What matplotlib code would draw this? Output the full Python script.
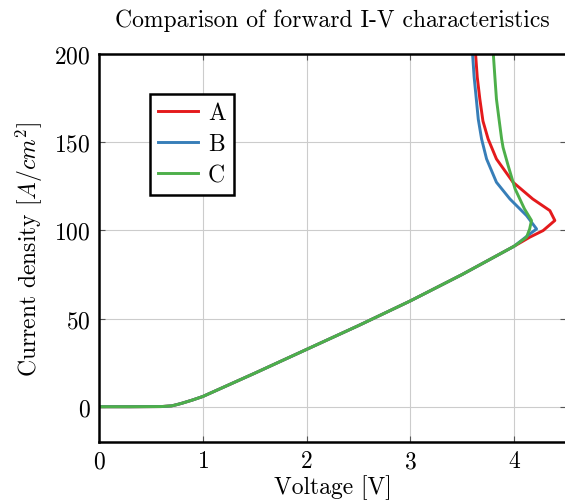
import matplotlib.pyplot as plt

# forward I-V sweeps (voltage in V, current density in A/cm^2)
v_a = [0.0, 0.3, 0.6, 0.7, 0.75, 0.8, 0.9, 1.0, 1.5, 2.0, 2.5, 3.0, 3.5, 4.0,
       4.15, 4.28, 4.393, 4.345, 4.18, 3.99, 3.83, 3.75, 3.70, 3.67, 3.645, 3.629, 3.625]
i_a = [0.0, 0.0, 0.1, 0.5, 1.2, 2.0, 3.8, 5.8, 19.0, 32.5, 46.0, 60.0, 75.0, 91.0,
       96.1, 99.9, 105.6, 111.2, 117.8, 127.3, 140.5, 151.8, 162.0, 174.5, 187.0, 200.0, 205.0]

v_b = [0.0, 0.3, 0.6, 0.7, 0.75, 0.8, 0.9, 1.0, 1.5, 2.0, 2.5, 3.0, 3.5, 4.0,
       4.152, 4.217, 4.12, 3.96, 3.83, 3.735, 3.687, 3.655, 3.636, 3.615, 3.60, 3.595]
i_b = [0.0, 0.0, 0.1, 0.5, 1.2, 2.0, 3.8, 5.8, 19.0, 32.5, 46.0, 60.0, 75.0, 91.0,
       98.0, 100.8, 108.4, 117.8, 127.3, 140.5, 151.8, 163.0, 174.5, 187.0, 200.0, 205.0]

v_c = [0.0, 0.3, 0.6, 0.7, 0.75, 0.8, 0.9, 1.0, 1.5, 2.0, 2.5, 3.0, 3.5, 4.0,
       4.12, 4.15, 4.168, 4.10, 4.01, 3.943, 3.894, 3.88, 3.855, 3.83, 3.815, 3.80, 3.795]
i_c = [0.0, 0.0, 0.1, 0.5, 1.2, 2.0, 3.8, 5.8, 19.0, 32.5, 46.0, 60.0, 75.0, 91.0,
       96.1, 100.8, 105.6, 112.2, 123.5, 136.7, 147.0, 151.8, 163.0, 174.5, 187.0, 200.0, 205.0]

x_ticks = [0, 1, 2, 3, 4]
y_ticks = [0, 50, 100, 150, 200]


def main():
    plt.rcParams['font.family'] = 'serif'
    plt.rcParams['font.serif'] = ['cmr10', 'DejaVu Serif']
    plt.rcParams['mathtext.fontset'] = 'cm'
    plt.rcParams['axes.formatter.use_mathtext'] = True

    fig = plt.figure(figsize=(5.65, 5.02), dpi=100)
    ax = fig.add_axes([0.1752, 0.1175, 0.8265, 0.7729])

    ax.plot(v_a, i_a, color='#e41a1c', lw=2.1, label='A')
    ax.plot(v_b, i_b, color='#377eb8', lw=2.1, label='B')
    ax.plot(v_c, i_c, color='#4daf4a', lw=2.1, label='C')

    ax.set_xlim(0, 4.5)
    ax.set_ylim(-20, 200)
    ax.set_xticks(x_ticks)
    ax.set_yticks(y_ticks)
    ax.grid(color='#cccccc', lw=0.8)
    ax.tick_params(direction='in', top=True, right=True, length=4,
                   color='#555555', labelsize=17, pad=6)
    for s in ax.spines.values():
        s.set_linewidth(1.8)

    ax.set_title('Comparison of forward I-V characteristics', fontsize=17, pad=20)
    ax.set_xlabel('Voltage [V]', fontsize=17, labelpad=1)
    ax.set_ylabel(r'Current density $[A/cm^2]$', fontsize=17, labelpad=7)

    leg = ax.legend(loc='upper left', bbox_to_anchor=(0.109, 0.897), fontsize=17,
                    fancybox=False, framealpha=1, edgecolor='black',
                    handlelength=1.7, handletextpad=0.4, labelspacing=0.38,
                    borderpad=0.35, borderaxespad=0)
    leg.get_frame().set_linewidth(1.8)

    fig.savefig('out.png', dpi=100)


if __name__ == "__main__":
    main()
